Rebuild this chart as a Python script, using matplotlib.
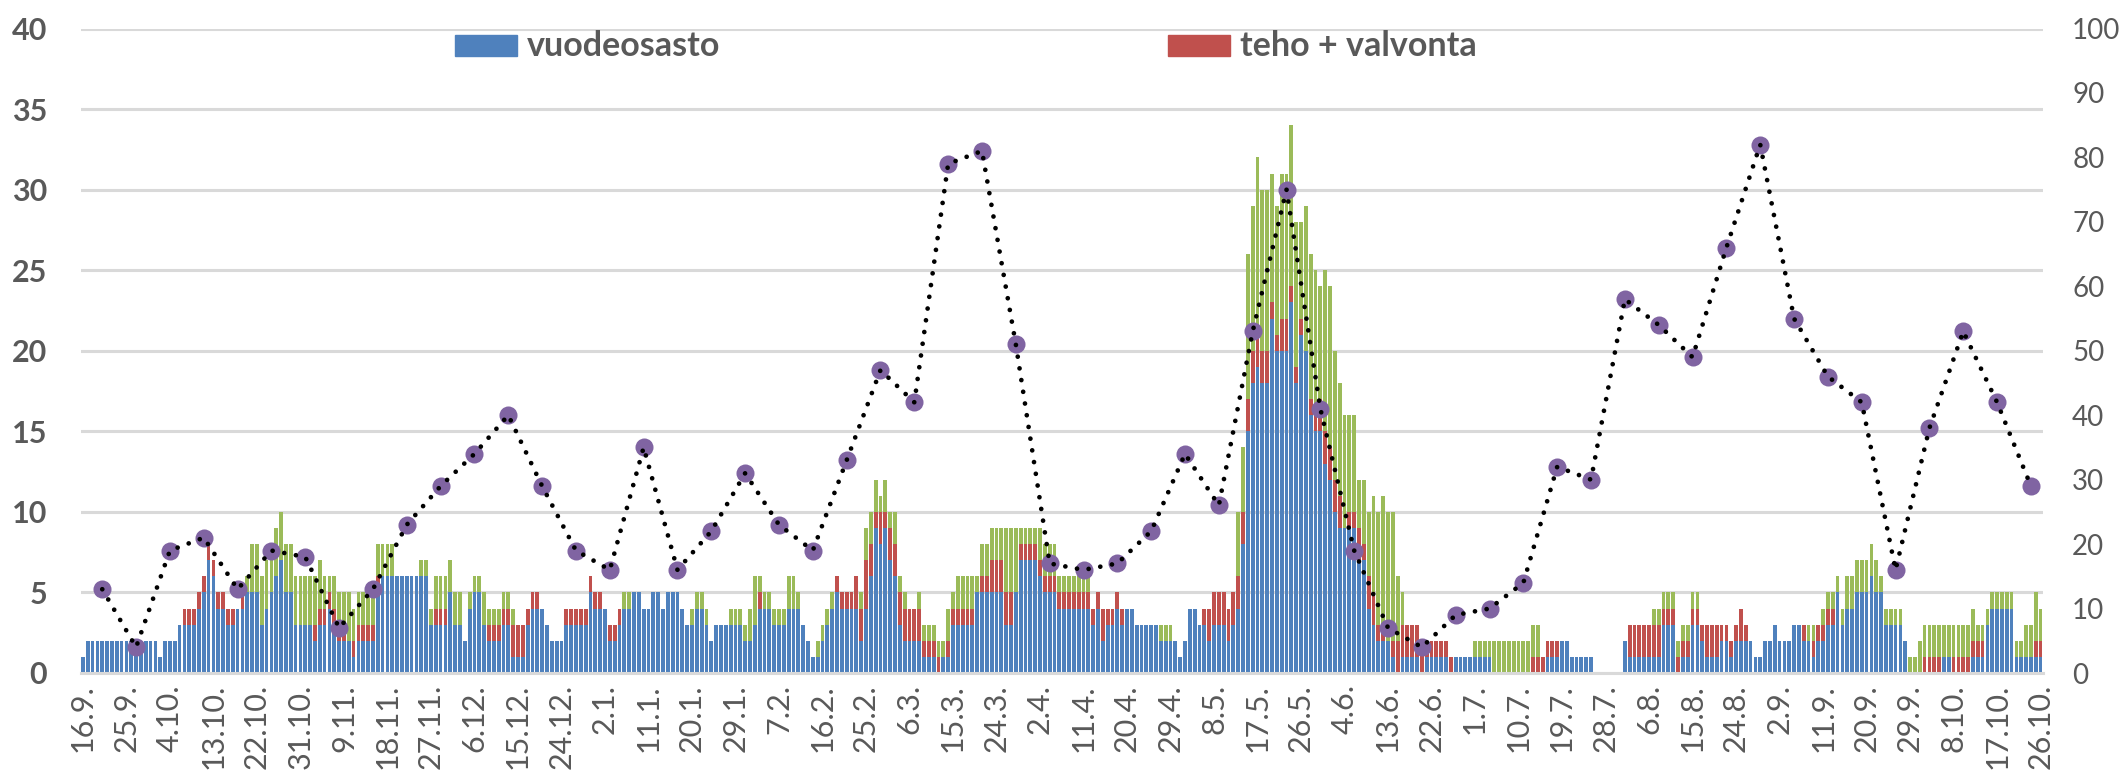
import matplotlib
matplotlib.use("Agg")
import matplotlib.pyplot as plt
from matplotlib.patches import Rectangle
import numpy as np

# ---- data -------------------------------------------------------------
vuodeosasto = [
    1,2,2,2,2,2,2,2,2,2,  2,2,2,2,2,2,1,2,2,2,  3,3,3,3,4,5,7,6,4,4,
    3,3,4,4,5,5,5,3,4,5,  6,7,5,5,3,3,3,3,2,3,  3,4,3,2,2,2,1,2,2,2,
    2,5,6,6,6,6,6,6,6,6,  6,6,3,3,3,3,5,3,3,2,  4,5,5,3,2,2,2,3,3,1,
    1,1,3,4,4,4,3,2,2,2,  3,3,3,3,3,5,4,4,4,2,  2,3,4,4,5,5,4,4,5,5,
    4,5,5,5,4,3,3,4,4,3,  2,3,3,3,3,3,3,2,2,3,  4,4,4,3,3,3,4,4,4,3,
    2,1,1,2,3,4,5,4,4,4,  4,2,4,6,9,8,9,7,6,3,  2,2,2,2,1,1,1,0,1,1,
    3,3,3,3,3,5,5,5,5,5,  5,3,3,5,7,7,7,7,6,5,  5,5,4,4,4,4,4,4,4,3,
    4,2,3,3,4,3,4,4,3,3,  3,3,3,2,2,2,2,1,2,4,  4,3,3,2,3,3,3,2,3,4,
    8,15,18,19,18,18,22,20,20,20,  23,18,21,20,16,15,15,13,12,10,
    9,9,9,9,7,7,4,3,2,2,  2,1,0,1,1,1,1,0,1,1,  1,1,1,0,1,1,1,1,1,1,
    1,1,0,0,0,0,0,0,0,0,  0,0,0,1,1,1,2,2,1,1,  1,1,1,0,0,0,0,0,0,2,
    1,1,1,1,1,1,1,3,3,3,  0,1,1,3,3,2,1,1,1,2,  2,1,2,2,2,2,1,1,2,2,
    3,2,2,2,3,3,2,2,1,2,  2,3,3,5,3,4,4,5,5,5,  6,5,5,3,3,3,3,2,0,0,
    0,0,0,0,0,1,1,0,0,0,  0,1,1,1,3,4,4,4,4,4,  1,1,1,1,1,1,
]
teho_valvonta = [
    0,0,0,0,0,0,0,0,0,0,  0,0,0,0,0,0,0,0,0,0,  0,1,1,1,1,1,1,1,1,1,
    1,1,0,1,0,0,0,0,0,0,  0,0,0,0,0,0,0,0,1,1,  1,1,1,1,1,0,1,1,1,1,
    1,1,0,0,0,0,0,0,0,0,  0,0,0,1,1,1,0,0,0,0,  0,0,0,0,1,1,1,1,1,2,
    2,2,1,1,1,0,0,0,0,0,  1,1,1,1,1,1,1,1,0,1,  1,1,0,0,0,0,0,0,0,0,
    0,0,0,0,0,0,0,0,0,0,  0,0,0,0,0,0,0,0,0,0,  1,0,0,0,0,0,0,0,0,0,
    0,0,0,0,0,0,1,1,1,1,  2,2,3,2,1,2,1,2,2,2,  2,2,2,2,1,1,1,1,0,1,
    1,1,1,1,1,0,1,1,2,2,  2,2,2,0,1,1,1,1,1,1,  1,1,1,1,1,1,1,1,1,1,
    1,2,1,1,1,1,0,0,0,0,  0,0,0,0,0,0,0,0,0,0,  0,0,1,2,2,2,2,2,2,2,
    2,2,2,2,2,2,1,1,2,2,  1,1,1,0,1,1,2,2,2,2,
    2,0,1,1,2,1,2,2,1,1,  0,1,2,2,2,2,2,2,1,1,  1,1,1,1,0,0,0,0,0,0,
    0,0,0,0,0,0,0,0,0,0,  1,1,1,1,1,1,0,0,0,0,  0,0,0,0,0,0,0,0,0,0,
    2,2,2,2,2,2,2,1,1,1,  1,1,1,1,1,1,2,2,2,1,  1,1,1,2,1,0,0,0,0,0,
    0,0,0,0,0,0,1,0,1,1,  1,1,1,0,0,0,0,0,0,0,  0,0,0,0,0,0,0,0,0,0,
    0,1,1,1,1,0,0,1,1,1,  1,1,1,1,0,0,0,0,0,0,  0,0,0,0,1,1,
]
muu = [
    0,0,0,0,0,0,0,0,0,0,  0,0,0,0,0,0,0,0,0,0,  0,0,0,0,0,0,0,0,0,0,
    0,0,0,0,1,3,3,3,3,3,  3,3,3,3,3,3,3,3,3,3,  2,1,2,2,2,3,2,2,2,2,
    2,2,2,2,2,0,0,0,0,0,  1,1,1,2,2,2,2,2,2,0,  1,1,1,2,1,1,1,1,1,1,
    0,0,0,0,0,0,0,0,0,0,  0,0,0,0,0,0,0,0,0,0,  0,0,1,1,0,0,0,0,0,0,
    0,0,0,0,0,0,1,1,1,1,  0,0,0,0,1,1,1,1,2,3,  1,1,1,1,1,1,2,2,1,0,
    0,0,1,1,1,1,0,0,0,0,  0,1,2,2,2,1,2,1,2,1,  1,0,0,1,1,1,1,1,1,2,
    1,2,2,2,2,1,2,2,2,2,  2,4,4,4,1,1,1,1,2,2,  2,2,1,1,1,1,1,1,1,0,
    0,0,0,0,0,0,0,0,0,0,  0,0,0,1,1,1,0,0,0,0,  0,0,0,0,0,0,0,0,0,4,
    4,9,9,11,10,10,8,8,9,9,  10,9,6,9,9,9,7,10,10,8,
    7,7,6,6,3,4,4,6,7,8,  8,8,4,2,0,0,0,0,0,0,  0,0,0,0,0,0,0,0,1,1,
    1,1,2,2,2,2,2,2,2,2,  2,2,0,0,0,0,0,0,0,0,  0,0,0,0,0,0,0,0,0,0,
    0,0,0,0,0,1,1,1,1,1,  1,1,1,1,1,0,0,0,0,0,  0,0,0,0,0,0,0,0,0,0,
    0,0,0,0,0,0,0,1,1,0,  1,1,1,1,1,2,2,2,2,2,  2,2,1,1,1,1,1,0,1,1,
    2,2,2,2,2,2,2,2,2,2,  2,2,1,1,1,1,1,1,1,1,  1,1,2,2,3,2,
]
viikko = [13, 4, 19, 21, 13, 19, 18, 7, 13, 23, 29, 34, 40, 29, 19, 16, 35, 16,
          22, 31, 23, 19, 33, 47, 42, 79, 81, 51, 17, 16, 17, 22, 34, 26, 53, 75,
          41, 19, 7, 4, 9, 10, 14, 32, 30, 58, 54, 49, 66, 82, 55, 46, 42, 16,
          38, 53, 42, 29]
tick_labels = ["16.9.", "25.9.", "4.10.", "13.10.", "22.10.", "31.10.", "9.11.",
               "18.11.", "27.11.", "6.12.", "15.12.", "24.12.", "2.1.", "11.1.",
               "20.1.", "29.1.", "7.2.", "16.2.", "25.2.", "6.3.", "15.3.", "24.3.",
               "2.4.", "11.4.", "20.4.", "29.4.", "8.5.", "17.5.", "26.5.", "4.6.",
               "13.6.", "22.6.", "1.7.", "10.7.", "19.7.", "28.7.", "6.8.", "15.8.",
               "24.8.", "2.9.", "11.9.", "20.9.", "29.9.", "8.10.", "17.10.", "26.10."]

assert len(vuodeosasto) == len(teho_valvonta) == len(muu) == 406

# ---- figure -----------------------------------------------------------
W, H = 2124, 776
fig = plt.figure(figsize=(W / 100, H / 100), dpi=100)
ax = fig.add_axes([80.5 / W, 103 / H, 1962.5 / W, 644.5 / H])

BLUE, RED, GREEN = "#4f81bd", "#c0504d", "#9bbb59"
GRAY = "#595959"
GRID = "#d9d9d9"

days = np.arange(len(vuodeosasto))
b = np.array(vuodeosasto)
r = np.array(teho_valvonta)
g = np.array(muu)
bw = 0.78
ax.bar(days, b, width=bw, color=BLUE, linewidth=0, zorder=2)
ax.bar(days, r, width=bw, bottom=b, color=RED, linewidth=0, zorder=2)
ax.bar(days, g, width=bw, bottom=b + r, color=GREEN, linewidth=0, zorder=2)

ax.set_xlim(-0.5, len(days) - 0.5)
ax.set_ylim(0, 40)
ax.set_yticks(range(0, 41, 5))
ax.yaxis.grid(True, color=GRID, linewidth=2.2, zorder=0)
ax.set_axisbelow(True)
for s in ["top", "right", "left"]:
    ax.spines[s].set_visible(False)
ax.spines["bottom"].set_color(GRID)
ax.spines["bottom"].set_linewidth(2.2)
ax.tick_params(axis="y", length=0, pad=24, labelsize=22, labelcolor=GRAY)
for lab in ax.get_yticklabels():
    lab.set_fontweight("bold")
    lab.set_fontfamily("Lato")

ax.set_xticks(days[::9])
ax.set_xticklabels(tick_labels, rotation=90, fontsize=22, color=GRAY,
                   fontfamily="Lato", va="top", ha="center")
ax.tick_params(axis="x", length=0, pad=8)

# line on secondary axis
ax2 = ax.twinx()
ax2.set_ylim(0, 100)
ax2.set_yticks(range(0, 101, 10))
for s in ["top", "right", "left", "bottom"]:
    ax2.spines[s].set_visible(False)
ax2.tick_params(axis="y", length=0, pad=21, labelsize=20, labelcolor=GRAY)
for lab in ax2.get_yticklabels():
    lab.set_fontfamily("Lato")
wdays = 4 + 7 * np.arange(len(viikko))
ax2.plot(wdays, viikko, "o", ms=13, color="#8064a2", markeredgewidth=0, zorder=3)
ax2.plot(wdays, viikko, color="black", linewidth=3.4,
         linestyle=(0, (0.01, 2.5)), dash_capstyle="round", zorder=4)

# legend (manual, as in the reference)
def leg(x, y, color, text):
    fig.patches.append(Rectangle((x / W, 1 - (y + 10) / H), 62 / W, 21 / H,
                                 transform=fig.transFigure, color=color))
    fig.text((x + 72) / W, 1 - y / H, text, fontsize=24.5, fontweight="bold",
             color=GRAY, family="Lato", va="center", ha="left")

leg(455, 46, BLUE, "vuodeosasto")
leg(1168, 46, RED, "teho + valvonta")

fig.savefig("out.png", dpi=100)
